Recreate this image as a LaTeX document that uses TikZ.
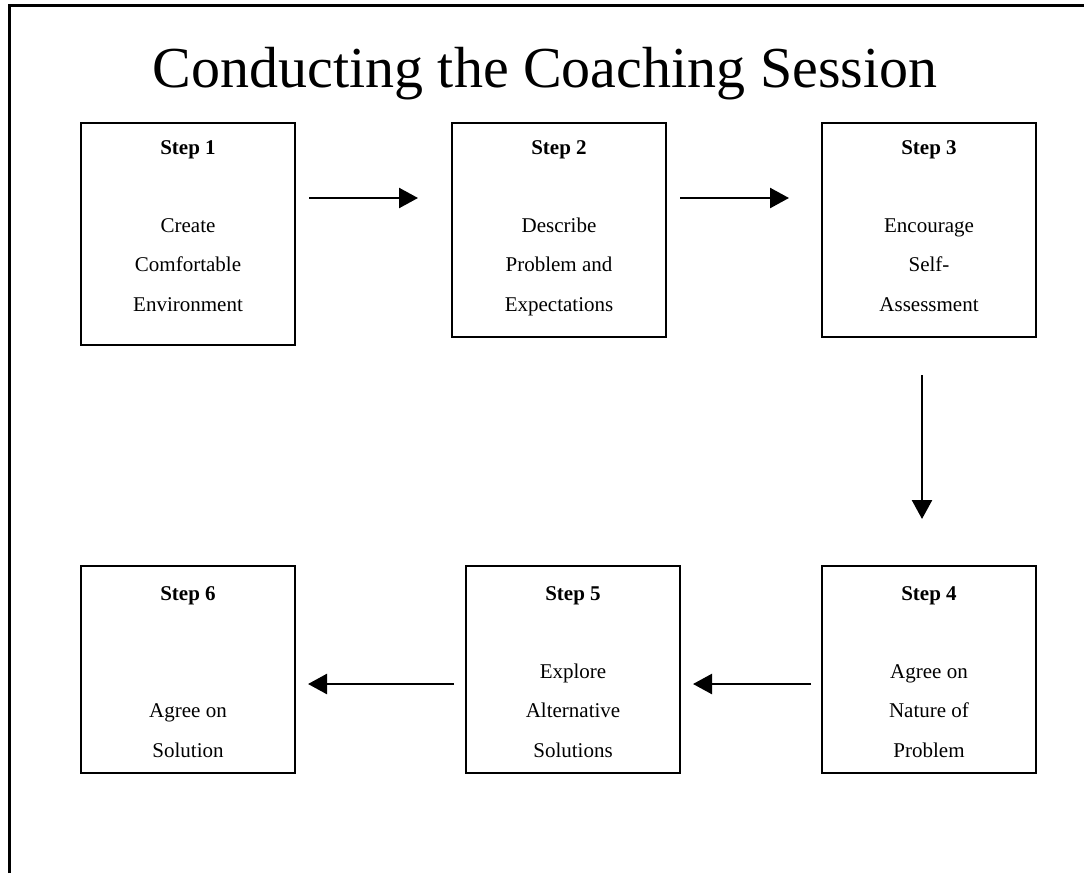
\documentclass[tikz,border=0pt]{standalone}
\usepackage{fontspec}
\setmainfont{Liberation Serif}
\usetikzlibrary{arrows.meta}
\newcommand{\stepcontent}[1]{\begin{tabular}[t]{@{}c@{}}#1\end{tabular}}
\tikzset{
  stepbox/.style={draw, line width=2.5pt, outer sep=0pt, inner sep=0pt, minimum width=214pt},
  steptext/.style={anchor=base, inner sep=0pt, font=\fontsize{21}{39.3}\selectfont},
  arr/.style={line width=2.5pt, -{Triangle[length=19pt,width=20pt]}},
  frameline/.style={line width=2.5pt}
}
\begin{document}
\begin{tikzpicture}[x=1pt,y=-1pt]
\useasboundingbox (0,0) rectangle (1084,873);
% frame
\draw[frameline] (9.5,873) -- (9.5,5.5) -- (1084,5.5);
% title
\node[anchor=base, inner sep=0pt, font=\fontsize{58}{58}\selectfont] (title) at (545,87) {Conducting the Coaching Session};
% boxes top row
\node[stepbox, minimum height=222pt] (b1) at (188,234) {};
\node[stepbox, minimum height=214pt] (b2) at (559,230) {};
\node[stepbox, minimum height=214pt] (b3) at (929,230) {};
% boxes bottom row
\node[stepbox, minimum height=207pt] (b6) at (188,669.5) {};
\node[stepbox, minimum height=207pt] (b5) at (573,669.5) {};
\node[stepbox, minimum height=207pt] (b4) at (929,669.5) {};
% texts
\node[steptext] (t1) at (188,154) {\stepcontent{\textbf{Step 1}\\ \\ Create\\ Comfortable\\ Environment}};
\node[steptext] (t2) at (559,154) {\stepcontent{\textbf{Step 2}\\ \\ Describe\\ Problem and\\ Expectations}};
\node[steptext] (t3) at (929,154) {\stepcontent{\textbf{Step 3}\\ \\ Encourage\\ Self-\\ Assessment}};
\node[steptext] (t4) at (929,600) {\stepcontent{\textbf{Step 4}\\ \\ Agree on\\ Nature of\\ Problem}};
\node[steptext] (t5) at (573,600) {\stepcontent{\textbf{Step 5}\\ \\ Explore\\ Alternative\\ Solutions}};
\node[steptext] (t6) at (188,600) {\stepcontent{\textbf{Step 6}\\ \\ \\ Agree on\\ Solution}};
% arrow guides
\coordinate (row1) at (0,198);
\coordinate (row2) at (0,684);
\coordinate (col3) at (922,0);
% connectors
\draw[arr] ([xshift=14pt]b1.east |- row1) -- ([xshift=-34pt]b2.west |- row1);
\draw[arr] ([xshift=14pt]b2.east |- row1) -- ([xshift=-33pt]b3.west |- row1);
\draw[arr] ([yshift=-38pt]b3.south -| col3) -- ([yshift=47pt]b4.north -| col3);
\draw[arr] ([xshift=-11pt]b4.west |- row2) -- ([xshift=13pt]b5.east |- row2);
\draw[arr] ([xshift=-12pt]b5.west |- row2) -- ([xshift=13pt]b6.east |- row2);
\end{tikzpicture}
\end{document}
